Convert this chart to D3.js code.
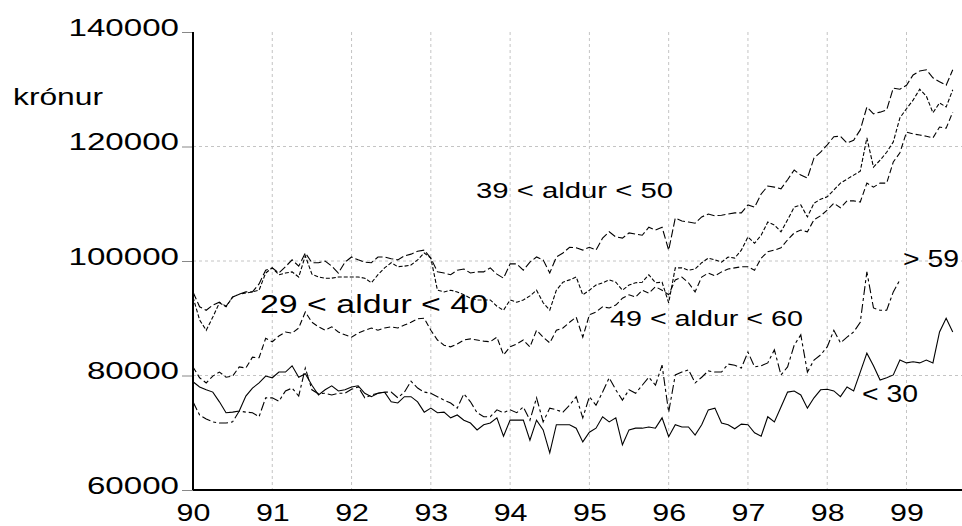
<!DOCTYPE html>
<html>
<head>
<meta charset="utf-8">
<script src="https://cdn.jsdelivr.net/npm/d3@7"></script>
<style>
  body { margin: 0; background: #fff; }
  svg { display: block; }
  text { font-family: "Liberation Sans", Arial, sans-serif; fill: #000; }
</style>
</head>
<body>
<div id="chart"></div>
<script>
// x ticks (years, 19xx) and y ticks (krónur)
const years = [90, 91, 92, 93, 94, 95, 96, 97, 98, 99];
const yTicks = [60000, 80000, 100000, 120000, 140000];
const gridY = [80000, 100000, 120000];

// monthly values from Jan 1990
const under30 = [78900,78000,77500,77100,75400,73500,73600,73800,76400,77800,
  78700,79900,79600,80600,80600,81700,79700,80300,78300,76600,
  77500,78200,77300,77500,78000,78200,76900,76300,76900,77100,
  75400,75200,76300,76300,75400,73600,74300,73500,73600,72600,
  73100,72200,71700,70500,71400,71700,72600,69400,72200,72200,
  72200,68700,72200,70500,66500,71400,71400,71400,70800,68400,
  70100,70800,72800,71900,72600,67900,70500,70800,70800,71000,
  70800,72600,69300,71400,71000,71000,69600,71400,74000,74300,
  71700,71400,70700,71500,71400,70000,69400,72800,71900,74500,
  77100,77300,76600,74300,76100,77500,77600,77300,76300,78000,
  77300,80600,83900,81700,79200,79600,80100,82700,82200,82400,
  82200,82700,82200,87600,90000,87600];

const age29to40 = [93700,89700,87900,90200,92700,92000,93700,94200,94400,94600,
  94900,97900,98800,97600,97900,98100,97200,100900,97700,97200,
  97000,97000,97200,97200,97200,97200,97000,96200,97600,98800,
  99700,99000,99100,99300,100200,101400,100500,94900,94600,94900,
  94600,94100,93500,93200,93200,93200,92100,91400,93200,92800,
  93200,93900,94900,92700,91400,94900,96300,96700,97200,94100,
  94900,95800,96200,96700,96300,94900,95800,96200,96300,97600,
  96200,96300,92700,98800,98800,98400,98600,99700,100500,100200,
  99800,100700,100500,101900,104200,103100,104500,106800,106300,105100,
  107200,109400,109800,107700,110100,110800,111200,112400,113600,114300,
  115000,115700,121500,116400,117600,119000,120800,125000,126600,128100,
  130000,128800,125900,127600,126900,129900];

const age39to50 = [94600,92000,91400,92300,92800,92100,93700,94200,94600,94600,
  96000,98400,98800,97900,99000,100200,99100,101400,99700,99700,
  100000,99100,97900,99800,100700,100200,99800,99700,100700,100700,
  100400,100200,100900,101200,101700,101900,100500,98100,97900,97600,
  98400,98600,97900,98100,98100,98800,97700,97000,99500,99500,
  98400,99800,100700,100200,97900,100700,101400,102400,102300,101900,
  102400,101900,104000,105100,104200,104000,104900,104700,104500,105900,
  105400,105900,101900,107500,107000,106800,106600,107700,108200,107900,
  108000,108200,108400,108400,109800,109400,111700,113100,112900,112600,
  114200,115900,115000,114500,118000,119000,120300,121700,121800,120600,
  121100,122900,126900,125700,126000,126400,130200,130000,130700,132500,
  133200,133400,132000,131300,130700,133400];

const age49to60 = [81500,79600,78700,79900,80600,79700,79900,81500,81300,83200,
  83100,86500,85900,86900,87600,87400,88300,91100,89300,88500,
  87900,88500,87600,87100,86700,87400,87900,88300,87900,88300,
  88500,88300,88800,89300,89900,90000,87900,86200,85300,85000,
  85500,86200,86400,86200,86000,85900,86700,83600,85000,85500,
  86200,85000,87900,86700,85700,87900,88300,89300,90200,86700,
  90600,91100,92000,91800,92300,93500,94100,93700,94900,94400,
  95500,94900,94100,96700,97200,96200,94600,97200,97900,97400,
  98100,98600,98800,99000,99000,98400,100500,101600,101900,102300,
  103700,104900,105400,105100,107200,107900,108900,110100,109300,110500,
  110500,110300,113600,112900,113600,113600,117300,118900,122500,122200,
  122000,121800,121500,123400,123200,126000];

const over59 = [75400,73100,72400,71900,71700,71700,71900,73800,73600,73500,
  72800,76100,76100,75500,77300,77800,76400,81300,77500,76800,
  76900,76600,76900,76900,77600,78000,76100,76600,76900,77100,
  77100,76100,77100,79000,77800,77100,76900,76300,75700,75200,
  74300,76800,75400,73500,72800,72800,74000,73500,74000,73500,
  74500,72200,76100,71900,74300,74000,73600,74800,76300,72600,
  76300,74800,77100,79600,77500,75700,77500,76900,78300,79700,
  78300,81800,73600,80100,80600,81000,78700,79700,80800,80600,
  80600,82000,81800,81300,84100,81500,81700,82200,84500,80100,
  81500,85300,87100,80600,82700,83600,85000,87900,85700,86700,
  87600,89300,98100,91800,91400,91400,94600,96700];

const series = [
  { name: "39 < aldur < 50", values: age39to50, dash: "8,3" },
  { name: "29 < aldur < 40", values: age29to40, dash: "4,2" },
  { name: "49 < aldur < 60", values: age49to60, dash: "6,3" },
  { name: "> 59", values: over59, dash: "9,3,3,3" },
  { name: "< 30", values: under30, dash: null }
];

const W = 962, H = 526;
const x = d3.scaleLinear().domain([90, 99.7]).range([193, 962]);
const y = d3.scaleLinear().domain([60000, 140000]).range([490, 32]);

const svg = d3.select("#chart").append("svg")
  .attr("width", W)
  .attr("height", H);

// the picture's lettering is stretched sideways
const stretch = (sel, k) => {
  sel.each(function () {
    const w = this.getComputedTextLength();
    d3.select(this).attr("textLength", w * k).attr("lengthAdjust", "spacingAndGlyphs");
  });
};
const fitTo = (sel, width) => {
  sel.attr("textLength", width).attr("lengthAdjust", "spacingAndGlyphs");
};

// grid
svg.append("g").selectAll("line")
  .data(years.slice(1))
  .join("line")
  .attr("x1", d => x(d)).attr("x2", d => x(d))
  .attr("y1", y(140000)).attr("y2", y(60000))
  .attr("stroke", "#c4c4c4").attr("stroke-dasharray", "3,3");

svg.append("g").selectAll("line")
  .data(gridY)
  .join("line")
  .attr("x1", x(90)).attr("x2", x(99.7))
  .attr("y1", d => y(d)).attr("y2", d => y(d))
  .attr("stroke", "#c4c4c4").attr("stroke-dasharray", "3,3");

// y axis
const yAxis = svg.append("g")
  .attr("transform", `translate(${x(90)},0)`)
  .call(d3.axisLeft(y).tickValues(yTicks).tickSize(11).tickPadding(3).tickFormat(d3.format("d")));
yAxis.select(".domain").remove();
yAxis.selectAll(".tick line").attr("stroke", "#888");
yAxis.selectAll(".tick text")
  .attr("font-size", 24)
  .attr("font-family", null)
  .attr("dy", 3)
  .call(stretch, 1.38);

// x axis
const xAxis = svg.append("g")
  .attr("transform", `translate(0,${y(60000)})`)
  .call(d3.axisBottom(x).tickValues(years).tickSize(0).tickPadding(0).tickFormat(d3.format("d")));
xAxis.select(".domain").remove();
xAxis.selectAll(".tick text")
  .attr("font-size", 23)
  .attr("font-family", null)
  .attr("dy", null)
  .attr("y", 31)
  .call(stretch, 1.32);

// axis lines
svg.append("line")
  .attr("x1", x(90)).attr("x2", x(90))
  .attr("y1", y(140000)).attr("y2", y(60000))
  .attr("stroke", "#000").attr("stroke-width", 2);
svg.append("line")
  .attr("x1", x(90)).attr("x2", x(99.7))
  .attr("y1", y(60000)).attr("y2", y(60000))
  .attr("stroke", "#000").attr("stroke-width", 2);

// series
const line = d3.line()
  .x((d, i) => x(90 + i / 12))
  .y(d => y(d));

svg.append("g").selectAll("path")
  .data(series)
  .join("path")
  .attr("d", d => line(d.values))
  .attr("fill", "none")
  .attr("stroke", "#000")
  .attr("stroke-width", 1.1)
  .attr("stroke-dasharray", d => d.dash);

// unit label
svg.append("text")
  .attr("x", 13).attr("y", 105)
  .attr("font-size", 24)
  .text("krónur")
  .call(fitTo, 90);

// series labels
const labels = [
  { text: "39 < aldur < 50", x: 476, y: 198, size: 22, width: 197 },
  { text: "29 < aldur < 40", x: 260, y: 313, size: 25, width: 228 },
  { text: "49 < aldur < 60", x: 610, y: 326, size: 22, width: 193 },
  { text: "> 59", x: 903, y: 267, size: 24, width: 56 },
  { text: "< 30", x: 862, y: 402, size: 24, width: 56 }
];
svg.append("g").selectAll("text")
  .data(labels)
  .join("text")
  .attr("x", d => d.x)
  .attr("y", d => d.y)
  .attr("font-size", d => d.size)
  .text(d => d.text)
  .each(function (d) { fitTo(d3.select(this), d.width); });
</script>
</body>
</html>
